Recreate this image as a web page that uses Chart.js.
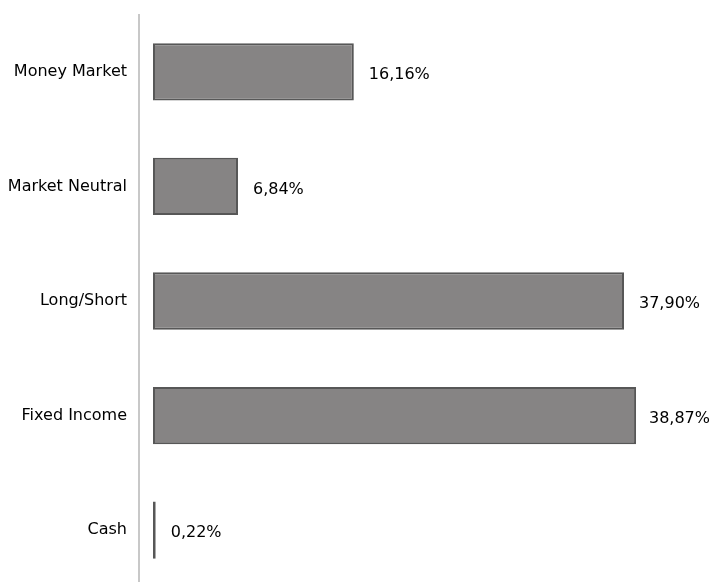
<!DOCTYPE html>
<html>
<head>
<meta charset="utf-8">
<script src="https://cdn.jsdelivr.net/npm/chart.js@4/dist/chart.umd.min.js"></script>
<style>
html,body{margin:0;padding:0;background:#fff;overflow:hidden;}
#wrap{width:711px;height:616px;position:relative;margin-top:-7px;}
</style>
</head>
<body>
<div id="wrap"><canvas id="c"></canvas></div>
<script>
const categories = ["Money Market", "Market Neutral", "Long/Short", "Fixed Income", "Cash"];
const values = [16.16, 6.84, 37.90, 38.87, 0.22];
const valueLabels = ["16,16%", "6,84%", "37,90%", "38,87%", "0,22%"];

const FONT = "'DejaVu Sans', Verdana, sans-serif";

const valueLabelPlugin = {
  id: 'valueLabels',
  afterDatasetsDraw(chart) {
    const ctx = chart.ctx;
    const meta = chart.getDatasetMeta(0);
    ctx.save();
    ctx.font = "16px " + FONT;
    ctx.fillStyle = "#000";
    ctx.textAlign = "left";
    ctx.textBaseline = "middle";
    meta.data.forEach((bar, i) => {
      const w = ctx.measureText(valueLabels[i]).width;
      const x = Math.min(bar.x + 15, chart.width - w - 1);
      ctx.fillText(valueLabels[i], x, bar.y + 3);
    });
    ctx.restore();
  }
};

new Chart(document.getElementById('c'), {
  type: 'bar',
  data: {
    labels: categories,
    datasets: [{
      data: values,
      backgroundColor: '#868484',
      borderColor: '#575757',
      borderWidth: 2,
      borderSkipped: false,
      barPercentage: 1,
      categoryPercentage: 0.5
    }]
  },
  options: {
    indexAxis: 'y',
    responsive: true,
    maintainAspectRatio: false,
    animation: false,
    layout: { padding: 0 },
    plugins: { legend: { display: false }, tooltip: { enabled: false } },
    scales: {
      x: {
        min: -1.125,
        max: 44.9,
        display: false
      },
      y: {
        grid: { display: false, drawTicks: false },
        border: { display: true, color: '#c8c8c8', width: 2 },
        ticks: { color: '#000', font: { family: FONT, size: 16 }, padding: 12 },
        afterFit(scale) { scale.width = 139; }
      }
    }
  },
  plugins: [valueLabelPlugin]
});
</script>
</body>
</html>
